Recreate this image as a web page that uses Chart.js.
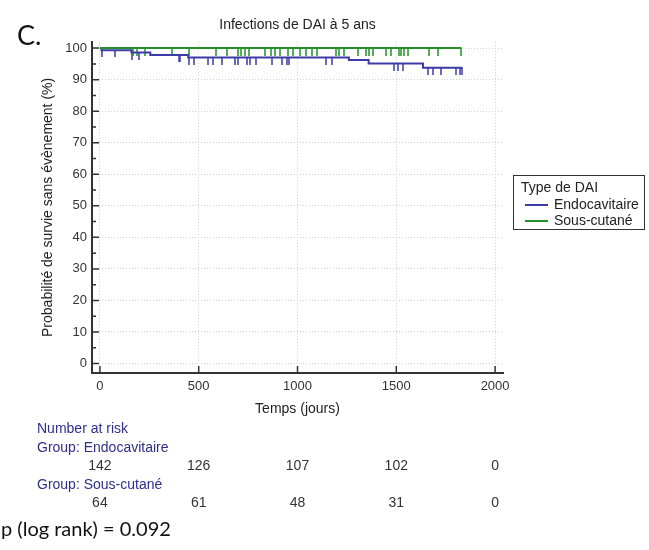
<!DOCTYPE html>
<html><head><meta charset="utf-8">
<script src="https://cdn.jsdelivr.net/npm/chart.js@4.4.0/dist/chart.umd.min.js"></script>
<style>
html,body{margin:0;padding:0;background:#fff;}
body{width:649px;height:550px;overflow:hidden;position:relative;font-family:"Liberation Sans",Arial,sans-serif;}
#c{position:absolute;left:0;top:0;}
#panel{position:absolute;left:17px;top:18px;font-family:Lato,"Open Sans",sans-serif;font-size:27px;color:#111;}
#pval{position:absolute;left:1px;top:516px;font-family:Lato,"Open Sans",sans-serif;font-size:20px;color:#111;}
#legend{position:absolute;left:513px;top:175px;width:132px;height:55px;border:1px solid #333;box-sizing:border-box;font-size:14px;color:#222;}
#legend .t{position:absolute;left:7px;top:3px;}
#legend .row{position:absolute;left:0;height:16px;width:100%;}
#legend .ln{position:absolute;left:11px;top:8px;width:23px;height:2px;}
#legend .lb{position:absolute;left:40px;top:0;}
</style></head>
<body>
<canvas id="c" width="649" height="550"></canvas>
<div id="panel">C.</div>
<div id="legend"><div class="t">Type de DAI</div></div>
<div id="pval">p (log rank) = 0.092</div>
<script>
// ---- data ----
const chartTitle = 'Infections de DAI à 5 ans';
const seriesNames = ['Endocavitaire', 'Sous-cutané'];
const seriesColors = ['#3c3ca8', '#23902a'];
// Kaplan-Meier step points (time in days, survival %)
const endoTimes = [0, 8, 160, 255, 447, 1260, 1360, 1635, 1835];
const endoSurv  = [100, 99.3, 98.6, 97.8, 97.0, 96.2, 95.1, 93.8, 93.8];
const sousTimes = [0, 1830];
const sousSurv  = [100, 100];
// censored observations (days)
const endoCensor = [9, 76, 161, 198, 398, 406, 449, 474, 546, 571, 620, 686, 701, 742, 762, 792, 872, 923, 945, 957, 1143, 1177, 1490, 1507, 1533, 1660, 1685, 1727, 1803, 1820, 1832];
const sousCensor = [168, 188, 229, 366, 452, 589, 645, 701, 716, 732, 757, 838, 864, 884, 909, 950, 975, 1011, 1041, 1072, 1097, 1194, 1209, 1234, 1306, 1346, 1361, 1382, 1448, 1473, 1514, 1524, 1539, 1560, 1666, 1712, 1829];
// number at risk
const riskTimes = [0, 500, 1000, 1500, 2000];
const riskEndo = [142, 126, 107, 102, 0];
const riskSous = [64, 61, 48, 31, 0];
// axis ticks
const xTicks = [0, 500, 1000, 1500, 2000];
const yTicks = [0, 10, 20, 30, 40, 50, 60, 70, 80, 90, 100];
const yMinorTicks = [5, 15, 25, 35, 45, 55, 65, 75, 85, 95];
const xTitle = 'Temps (jours)';
const yTitle = 'Probabilité de survie sans évènement (%)';

// ---- helpers ----
function survAt(times, surv, t) {
  let v = surv[0];
  for (let i = 0; i < times.length; i++) if (times[i] <= t) v = surv[i];
  return v;
}
function tickImage(color, len) {
  const cv = document.createElement('canvas');
  cv.width = 2; cv.height = len * 2;
  const g = cv.getContext('2d');
  g.fillStyle = color;
  g.fillRect(0.25, len, 1.5, len);
  return cv;
}

// legend (HTML)
const leg = document.getElementById('legend');
seriesNames.forEach((n, i) => {
  const r = document.createElement('div');
  r.className = 'row'; r.style.top = (20 + i * 16) + 'px';
  r.innerHTML = '<div class="ln" style="background:' + seriesColors[i] + '"></div><div class="lb">' + n + '</div>';
  leg.appendChild(r);
});

const font = 'Liberation Sans';
const riskPlugin = {
  id: 'kmExtras',
  afterDraw(chart) {
    const ctx = chart.ctx, xs = chart.scales.x, ys = chart.scales.y;
    const ca = chart.chartArea;
    ctx.save();
    ctx.strokeStyle = '#333'; ctx.lineWidth = 1.5;
    ctx.beginPath();
    xTicks.forEach(v => { const px = xs.getPixelForValue(v); ctx.moveTo(px, ca.bottom); ctx.lineTo(px, ca.bottom - 7); });
    yTicks.forEach(v => { const py = ys.getPixelForValue(v); ctx.moveTo(ca.left, py); ctx.lineTo(ca.left + 7, py); });
    yMinorTicks.forEach(v => { const py = ys.getPixelForValue(v); ctx.moveTo(ca.left, py); ctx.lineTo(ca.left + 4, py); });
    ctx.stroke();
    // number at risk
    ctx.font = '14px "' + font + '"';
    ctx.textBaseline = 'middle';
    ctx.textAlign = 'left';
    ctx.fillStyle = '#2e2e8c';
    ctx.fillText('Number at risk', 37, 429);
    ctx.fillText('Group: ' + seriesNames[0], 37, 448);
    ctx.fillText('Group: ' + seriesNames[1], 37, 485);
    ctx.fillStyle = '#333';
    ctx.textAlign = 'center';
    riskTimes.forEach((t, i) => {
      const px = xs.getPixelForValue(t);
      ctx.fillText(String(riskEndo[i]), px, 466);
      ctx.fillText(String(riskSous[i]), px, 503);
    });
    ctx.restore();
  }
};

const endoLine = endoTimes.map((t, i) => ({x: t, y: endoSurv[i]}));
const sousLine = sousTimes.map((t, i) => ({x: t, y: sousSurv[i]}));
const endoMarks = endoCensor.map(t => ({x: t, y: survAt(endoTimes, endoSurv, t)}));
const sousMarks = sousCensor.map(t => ({x: t, y: survAt(sousTimes, sousSurv, t)}));

Chart.defaults.font.family = font;
Chart.defaults.color = '#333';

new Chart(document.getElementById('c'), {
  type: 'scatter',
  data: {
    datasets: [
      {label: seriesNames[1], type: 'line', data: sousLine, stepped: 'before', borderColor: seriesColors[1], borderWidth: 2, pointRadius: 0, fill: false},
      {label: seriesNames[0], type: 'line', data: endoLine, stepped: 'before', borderColor: seriesColors[0], borderWidth: 2, pointRadius: 0, fill: false},
      {label: seriesNames[1] + ' censurés', data: sousMarks, pointStyle: tickImage(seriesColors[1], 8), pointRadius: 4, showLine: false},
      {label: seriesNames[0] + ' censurés', data: endoMarks, pointStyle: tickImage(seriesColors[0], 7), pointRadius: 4, showLine: false}
    ]
  },
  options: {
    responsive: false,
    animation: false,
    layout: {padding: {left: 0, right: 146, top: 0, bottom: 127}},
    plugins: {
      legend: {display: false},
      tooltip: {enabled: false},
      title: {display: true, text: chartTitle, fullSize: false, font: {size: 14, weight: 'normal'}, color: '#222', padding: {top: 17, bottom: 8}}
    },
    scales: {
      x: {
        type: 'linear', min: -40, max: 2040,
        afterBuildTicks: s => { s.ticks = xTicks.map(v => ({value: v})); },
        afterFit: s => { s.height = 50; },
        grid: {color: '#cfcfcf', lineWidth: 1, drawTicks: false},
        border: {display: true, color: '#333', width: 2, dash: [1, 2]},
        ticks: {padding: 6, font: {size: 13}, color: '#333', maxRotation: 0, callback: v => String(v)},
        title: {display: true, text: xTitle, font: {size: 14}, color: '#222', padding: {top: 0, bottom: 5}}
      },
      y: {
        type: 'linear', min: -3, max: 102,
        afterBuildTicks: s => { s.ticks = yTicks.map(v => ({value: v})); },
        afterFit: s => { s.width = 92; },
        grid: {color: '#cfcfcf', lineWidth: 1, drawTicks: false},
        border: {display: true, color: '#333', width: 2, dash: [1, 2]},
        ticks: {padding: 5, font: {size: 13}, color: '#333', callback: v => String(v)},
        title: {display: true, text: yTitle, font: {size: 14}, color: '#222', padding: {top: 40, bottom: 0}}
      }
    }
  },
  plugins: [riskPlugin]
});
</script>
</body></html>
